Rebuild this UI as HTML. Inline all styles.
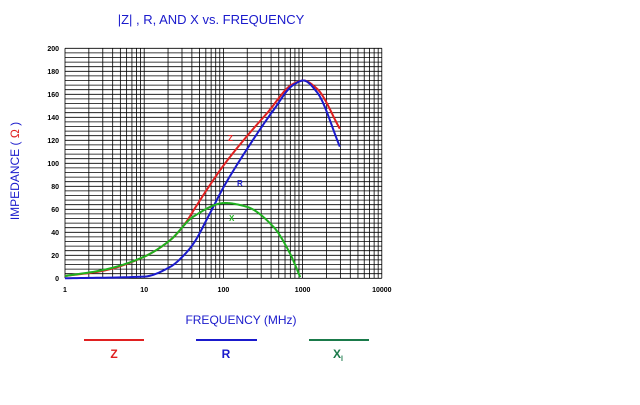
<!DOCTYPE html>
<html><head><meta charset="utf-8"><style>
body{margin:0;background:#fff;}
svg text{font-family:"Liberation Sans",sans-serif;}
</style></head><body>
<svg id="s" width="640" height="400" xmlns="http://www.w3.org/2000/svg">
<text x="211" y="24" font-size="13" fill="#1a1acc" text-anchor="middle">|Z| , R, AND X vs. FREQUENCY</text>
<g id="grid" stroke="#000" stroke-width="0.8"></g>
<g id="lbl" font-size="7" font-weight="bold" fill="#000"></g>
<text transform="translate(19,171) rotate(-90)" font-size="12" fill="#1a1acc" text-anchor="middle">IMPEDANCE ( <tspan fill="#e02020">Ω</tspan> )</text>
<text x="241" y="324" font-size="12" fill="#1a1acc" text-anchor="middle">FREQUENCY (MHz)</text>
<g id="curves" fill="none" stroke-width="2"></g>
<text x="228" y="141" font-size="8" font-weight="bold" fill="#e02020">Z</text>
<text x="237" y="186" font-size="8" font-weight="bold" fill="#1a1acc">R</text>
<text x="229" y="221" font-size="8" font-weight="bold" fill="#20b020">X</text>
<line x1="84" y1="340" x2="144" y2="340" stroke="#e02020" stroke-width="2"/>
<line x1="196" y1="340" x2="257" y2="340" stroke="#1a1acc" stroke-width="2"/>
<line x1="309" y1="340" x2="369" y2="340" stroke="#1a7a4a" stroke-width="2"/>
<text x="114" y="358" font-size="12" font-weight="bold" fill="#e02020" text-anchor="middle">Z</text>
<text x="226" y="358" font-size="12" font-weight="bold" fill="#1a1acc" text-anchor="middle">R</text>
<text x="338" y="358" font-size="12" font-weight="bold" fill="#1a7a4a" text-anchor="middle">X<tspan font-size="7" dy="3">l</tspan></text>
</svg>
<script>
var NS="http://www.w3.org/2000/svg";
var X0=65,DX=79.2,Y0=278.3,K=1.15;
function px(l){return X0+DX*l}function py(v){return Y0-K*v}
var g=document.getElementById('grid'),L=document.getElementById('lbl'),C=document.getElementById('curves');
function el(p,t,a){var e=document.createElementNS(NS,t);for(var k in a)e.setAttribute(k,a[k]);p.appendChild(e);return e}
for(var v=0;v<=200;v+=4)el(g,'line',{x1:X0,x2:px(4),y1:py(v),y2:py(v)});
for(var d=0;d<4;d++)for(var m=1;m<=9;m++){var x=px(d+Math.log10(m));el(g,'line',{x1:x,x2:x,y1:py(200),y2:py(0)})}
el(g,'line',{x1:px(4),x2:px(4),y1:py(200),y2:py(0)});
for(var v=0;v<=200;v+=20){var t=el(L,'text',{x:59,y:py(v)+2.5,'text-anchor':'end'});t.textContent=v}
var xs=["1","10","100","1000","10000"];
for(var i=0;i<5;i++){var t=el(L,'text',{x:px(i),y:292,'text-anchor':'middle'});t.textContent=xs[i]}
function curve(P,col){
 var n=P.length,xs=P.map(function(p){return p[0]}),ys=P.map(function(p){return p[1]});
 var dl=[],m=[];for(var i=0;i<n-1;i++)dl.push((ys[i+1]-ys[i])/(xs[i+1]-xs[i]));
 m[0]=dl[0];m[n-1]=dl[n-2];
 for(var i=1;i<n-1;i++){if(dl[i-1]*dl[i]<=0)m[i]=0;else{var w1=2*(xs[i+1]-xs[i])+(xs[i]-xs[i-1]),w2=(xs[i+1]-xs[i])+2*(xs[i]-xs[i-1]);m[i]=(w1+w2)/(w1/dl[i-1]+w2/dl[i]);}}
 var d="";
 for(var i=0;i<n-1;i++){var h=xs[i+1]-xs[i];for(var s=0;s<=20;s++){if(i>0&&s==0)continue;var t=s/20,t2=t*t,t3=t2*t;
  var y=(2*t3-3*t2+1)*ys[i]+(t3-2*t2+t)*h*m[i]+(-2*t3+3*t2)*ys[i+1]+(t3-t2)*h*m[i+1];
  var x=xs[i]+t*h;d+=(d?" L":"M")+px(x).toFixed(2)+","+py(y).toFixed(2);}}
 el(C,'path',{d:d,stroke:col,'stroke-linejoin':'round'})}
curve([[0,2],[0.48,6.5],[1,18.8],[1.33,33.3],[1.5,46],[1.65,62],[1.8,78],[2,98],[2.29,123],[2.55,143.5],[2.88,169],[3.01,172],[3.18,165],[3.47,130]],"#e02020");
curve([[0,0],[1,1.5],[1.33,10],[1.5,20],[1.62,30],[1.83,56.5],[2,79],[2.29,111.5],[2.63,146],[2.88,168],[3.01,172],[3.18,162],[3.47,114.5]],"#1a1acc");
curve([[0,2],[0.48,7.2],[1,18.8],[1.33,33.3],[1.62,53.6],[2.02,65.5],[2.29,62.3],[2.63,44.9],[2.84,21.7],[2.97,1]],"#20b020");
</script>
</body></html>
